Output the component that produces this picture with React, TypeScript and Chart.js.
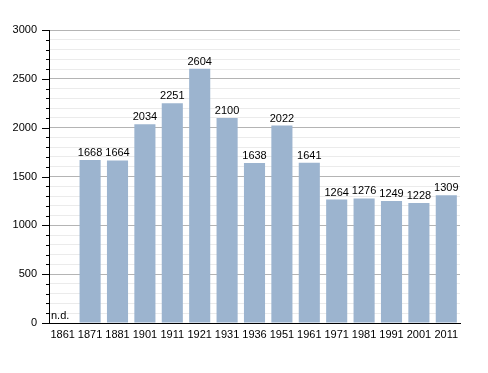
import React, { useEffect, useRef } from "react";
import { Chart, registerables } from "chart.js";

Chart.register(...registerables);

const years = ["1861", "1871", "1881", "1901", "1911", "1921", "1931", "1936", "1951", "1961", "1971", "1981", "1991", "2001", "2011"];
const population: (number | null)[] = [null, 1668, 1664, 2034, 2251, 2604, 2100, 1638, 2022, 1641, 1264, 1276, 1249, 1228, 1309];
const missingLabel = "n.d.";
const yMax = 3000;
const yMajorStep = 500;
const yMinorStep = 100;

const FONT = "'Liberation Sans', Arial, sans-serif";

export default function App() {
  const ref = useRef<HTMLCanvasElement>(null);
  useEffect(() => {
    if (!ref.current) return;
    const overlay = {
      id: "overlay",
      afterDraw(chart: any) {
        const ctx = chart.ctx;
        const y = chart.scales.y;
        const x = chart.scales.x;
        const left = chart.chartArea.left;
        ctx.save();
        // y tick marks
        ctx.strokeStyle = "#000";
        ctx.lineWidth = 1;
        for (let v = 0; v <= yMax; v += yMinorStep) {
          const py = Math.round(y.getPixelForValue(v)) + 0.5;
          const len = v % yMajorStep === 0 ? 7 : 3;
          ctx.beginPath();
          ctx.moveTo(left - len, py);
          ctx.lineTo(left, py);
          ctx.stroke();
        }
        // labels
        ctx.fillStyle = "#000";
        ctx.font = "11px " + FONT;
        ctx.textAlign = "center";
        ctx.textBaseline = "alphabetic";
        const meta = chart.getDatasetMeta(0);
        population.forEach((v, i) => {
          const px = x.getPixelForValue(i);
          if (v === null) {
            ctx.textAlign = "left";
            ctx.fillText(missingLabel, chart.chartArea.left + 2, y.getPixelForValue(0) - 4);
            ctx.textAlign = "center";
          } else {
            const bar = meta.data[i];
            ctx.fillText(String(v), bar ? bar.x : px, y.getPixelForValue(v) - 4);
          }
        });
        ctx.restore();
      },
    };
    const chart = new Chart(ref.current, {
      type: "bar",
      data: {
        labels: years,
        datasets: [
          {
            data: population as any,
            backgroundColor: "#9cb4cf",
            borderWidth: 0,
            categoryPercentage: 1,
            barPercentage: 0.77,
          },
        ],
      },
      options: {
        responsive: false,
        animation: false,
        layout: { padding: { top: 30, right: 28, bottom: 0, left: 0 } },
        plugins: { legend: { display: false }, tooltip: { enabled: false } },
        scales: {
          x: {
            grid: { display: false, drawTicks: false },
            border: { color: "#000", width: 1 },
            ticks: { color: "#000", font: { family: FONT, size: 11 }, padding: 5, maxRotation: 0, autoSkip: false },
            afterFit: (s: any) => {
              s.height = 50;
            },
          },
          y: {
            min: 0,
            max: yMax,
            grid: {
              drawTicks: false,
              color: (c: any) => (c.tick && c.tick.value % yMajorStep === 0 ? "#b4b4b4" : "#ebebeb"),
            },
            border: { color: "#000", width: 1 },
            ticks: {
              stepSize: yMinorStep,
              color: "#000",
              font: { family: FONT, size: 11 },
              padding: 12,
              autoSkip: false,
              callback: (v: any) => (Number(v) % yMajorStep === 0 ? String(v) : ""),
            },
            afterFit: (s: any) => {
              s.width = 49;
            },
          },
        },
      },
      plugins: [overlay],
    } as any);
    return () => chart.destroy();
  }, []);
  return (
    <div style={{ position: "fixed", left: 0, top: 0, width: 488, height: 373, background: "#fff" }}>
      <canvas ref={ref} width={488} height={373} style={{ width: 488, height: 373 }} />
    </div>
  );
}
